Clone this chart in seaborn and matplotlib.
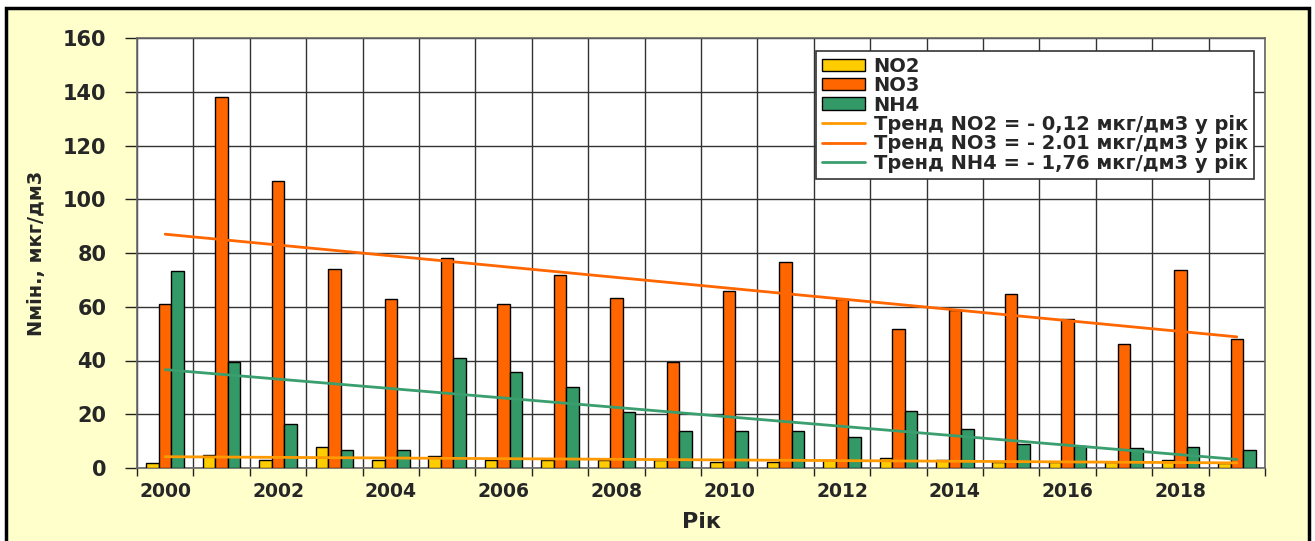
import matplotlib
matplotlib.use("Agg")
import matplotlib.pyplot as plt
from matplotlib.patches import Patch, Rectangle
import numpy as np
import pandas as pd
import seaborn as sns

# values
years = list(range(2000, 2020))
no2 = [2.0, 5.0, 2.9, 8.0, 3.0, 4.6, 3.0, 3.1, 2.8, 3.0,
       2.4, 2.4, 3.0, 3.7, 3.0, 2.1, 2.1, 2.1, 2.9, 2.0]
no3 = [60.9, 138.0, 106.7, 74.2, 62.7, 78.2, 60.9, 71.8, 63.3, 39.3,
       65.7, 76.5, 62.7, 51.8, 58.8, 64.6, 55.5, 46.3, 73.7, 48.1]
nh4 = [73.2, 39.6, 16.2, 6.7, 6.7, 40.9, 35.9, 30.3, 21.0, 13.8,
       13.8, 13.6, 11.4, 21.2, 14.5, 9.1, 8.3, 7.5, 8.0, 6.7]

series = ["NO2", "NO3", "NH4"]
bar_colors = ["#FFCC00", "#FF6600", "#339966"]

# linear trends: value at first and last year
trend_start = [4.2, 87.0, 36.6]
trend_end = [1.9, 48.8, 3.2]
trend_colors = ["#FF9900", "#FF6600", "#3A9E6E"]
trend_labels = ["Тренд NO2 = - 0,12 мкг/дм3 у рік",
                "Тренд NO3 = - 2.01 мкг/дм3 у рік",
                "Тренд NH4 = - 1,76 мкг/дм3 у рік"]

df = pd.DataFrame({"year": years * 3,
                   "value": no2 + no3 + nh4,
                   "series": [s for s in series for _ in years]})

sns.set_style("white")
plt.rcParams["font.family"] = ["DejaVu Sans"]
plt.rcParams["font.weight"] = "bold"

fig = plt.figure(figsize=(13.15, 5.41), dpi=100, facecolor="white")
fig.patches.append(Rectangle((6 / 1315, -0.02), 1303 / 1315, 1.02 - 8 / 541,
                             transform=fig.transFigure, facecolor="#FFFFCC",
                             edgecolor="black", linewidth=2.5, zorder=-10))
ax = fig.add_axes([137 / 1315, 1 - 468 / 541, 1128 / 1315, 430 / 541])
ax.set_facecolor("white")

sns.barplot(data=df, x="year", y="value", hue="series", hue_order=series,
            palette=bar_colors, width=0.67, saturation=1, edgecolor="black",
            linewidth=1, legend=False, ax=ax, zorder=3)

n = len(years)
for s, e, c in zip(trend_start, trend_end, trend_colors):
    ax.plot([0, n - 1], [s, e], color=c, linewidth=2, zorder=4)

ax.set_xlim(-0.5, n - 0.5)
ax.set_ylim(0, 160)
ax.set_yticks(range(0, 161, 20))
ax.set_xticks(range(0, n, 2))
ax.set_xticklabels([str(y) for y in years[::2]])
ax.set_xticks(np.arange(-0.5, n, 1), minor=True)

ax.tick_params(axis="x", which="major", length=0, pad=10, labelsize=13.5)
ax.tick_params(axis="x", which="minor", length=6, width=1, color="#222222",
               direction="out", bottom=True)
ax.tick_params(axis="y", length=9, width=1, color="#222222", direction="out",
               pad=13, labelsize=15, left=True)
for lab in ax.get_xticklabels() + ax.get_yticklabels():
    lab.set_fontweight("bold")

ax.grid(axis="y", which="major", color="#333333", linewidth=1, zorder=0)
ax.grid(axis="x", which="minor", color="#333333", linewidth=1, zorder=0)
ax.set_axisbelow(True)
for sp in ax.spines.values():
    sp.set_color("#666666")
    sp.set_linewidth(1.2)

ax.set_xlabel("Рік", fontsize=16, fontweight="bold")
ax.set_ylabel("Nмін., мкг/дм3", fontsize=14, fontweight="bold")
ax.xaxis.set_label_coords(0.5, (468 - 512) / 430)
ax.yaxis.set_label_coords((46 - 137) / 1128, 0.5)

handles = [Patch(facecolor=c, edgecolor="black", linewidth=1) for c in bar_colors]
handles += [plt.Line2D([], [], color=c, linewidth=2) for c in trend_colors]
leg = ax.legend(handles, series + trend_labels, loc="upper right",
                bbox_to_anchor=(0.99, 0.97), borderaxespad=0, fancybox=False,
                framealpha=1, edgecolor="#333333", fontsize=14,
                labelspacing=0.02, handlelength=2.2, handleheight=0.6,
                handletextpad=0.45, borderpad=0.3)
leg.get_frame().set_linewidth(1.2)
leg.set_zorder(5)
for t in leg.get_texts():
    t.set_fontweight("bold")

fig.savefig("out.png", dpi=100, facecolor=fig.get_facecolor())
